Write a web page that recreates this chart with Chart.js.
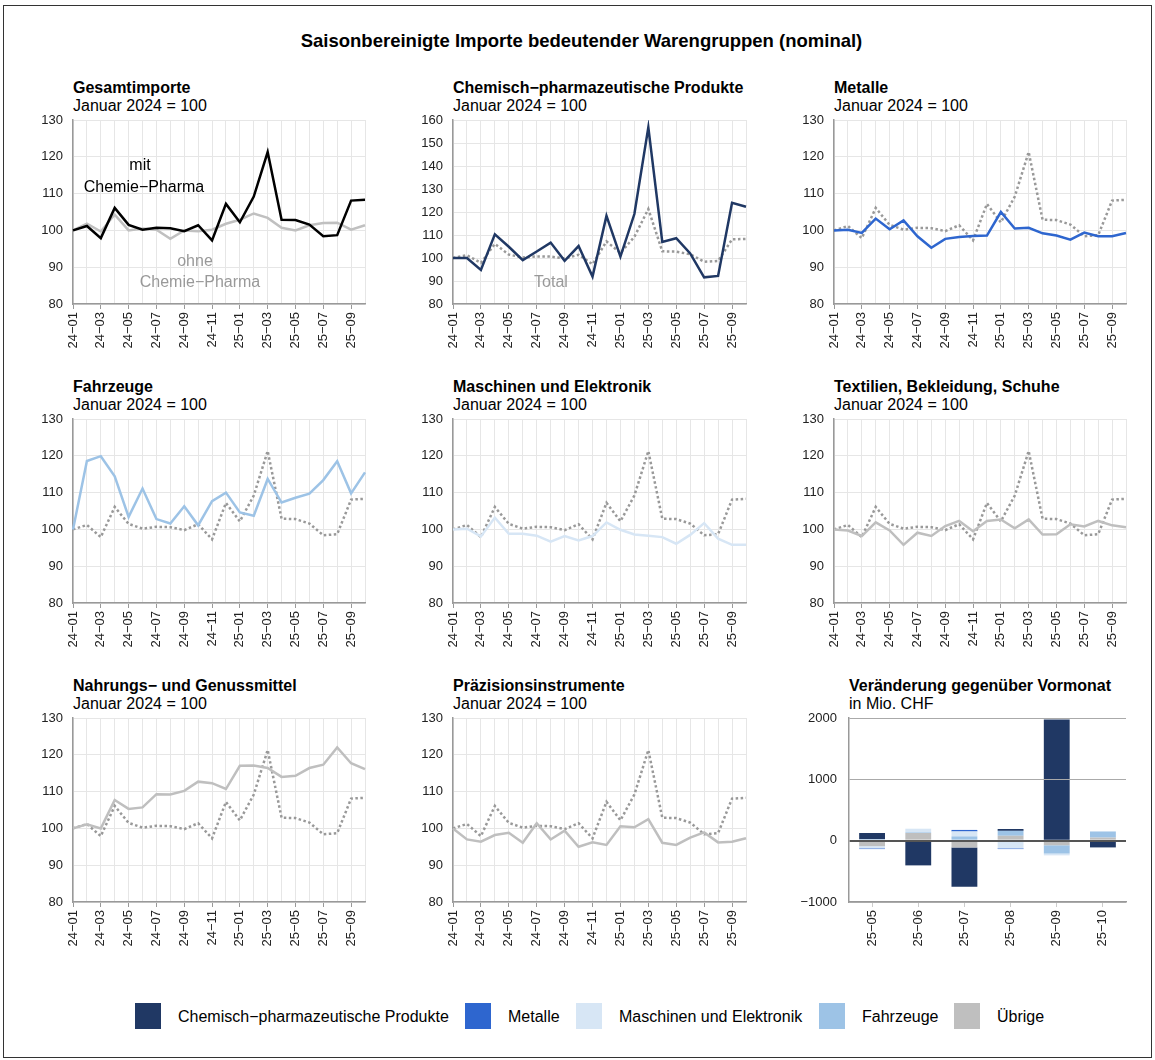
<!DOCTYPE html>
<html>
<head>
<meta charset="utf-8">
<script src="https://cdn.jsdelivr.net/npm/chart.js"></script>
<style>
  body { margin: 0; background: #fff; font-family: "Liberation Sans", Arial, sans-serif; color: #000; }
  #page { position: relative; width: 1155px; height: 1060px; overflow: hidden; }
  .frame { position: absolute; left: 3px; top: 5px; width: 1149px; height: 1053px; border: 1px solid #333; box-sizing: border-box; }
  .t { position: absolute; white-space: nowrap; line-height: 18px; }
  .h { font-weight: bold; font-size: 16px; }
  .s { font-size: 16px; }
  .main { font-weight: bold; font-size: 18.5px; left: 0; width: 1163px; text-align: center; top: 31px; line-height: 20px; }
  .note { font-size: 16px; text-align: center; transform: translateX(-50%); }
  canvas { position: absolute; }
  .sw { position: absolute; width: 26px; height: 26px; top: 1003px; }
  .lt { position: absolute; top: 1008px; font-size: 16px; line-height: 18px; white-space: nowrap; }
</style>
</head>
<body>
<div id="page">
  <div class="frame"></div>
  <div class="t main">Saisonbereinigte Importe bedeutender Warengruppen (nominal)</div>
</div>
<script>
// months shown on the line panels
const months = ["24−01", "24−02", "24−03", "24−04", "24−05", "24−06", "24−07", "24−08", "24−09", "24−10", "24−11", "24−12",
  "25−01", "25−02", "25−03", "25−04", "25−05", "25−06", "25−07", "25−08", "25−09", "25−10"];

// index values, Januar 2024 = 100
const total = [100, 101.2, 97.9, 106.1, 101.5, 100.2, 100.7, 100.6, 99.8, 101.4, 97.3, 107.2, 102.2, 109.2, 121.3, 102.9, 102.8, 101.6, 98.4, 98.7, 108.1, 108.3];
const ohneChemie = [100, 101.8, 99.7, 104.3, 100, 100.5, 100.2, 97.7, 100, 99.8, 100.2, 101.8, 102.9, 104.6, 103.4, 100.7, 100, 101.4, 102, 102.1, 100.2, 101.4];
const chemie = [100, 100, 94.8, 110.3, 104.9, 99.1, 102.8, 106.7, 98.8, 105.2, 91.9, 118.3, 100.6, 119.1, 156.8, 107, 108.6, 102, 91.6, 92.2, 124, 122.3];
const metalle = [100, 100.2, 99.3, 103.2, 100.3, 102.7, 98.4, 95.3, 97.7, 98.2, 98.5, 98.6, 105, 100.5, 100.7, 99.2, 98.6, 97.5, 99.4, 98.4, 98.4, 99.3];
const fahrzeuge = [100, 118.6, 119.9, 114.4, 103.4, 111.1, 102.8, 101.6, 106.3, 101.1, 107.7, 110, 104.6, 103.7, 113.7, 107.3, 108.6, 109.7, 113.4, 118.5, 109.8, 115.5];
const maschinen = [100, 100.2, 98.1, 103.2, 98.8, 98.8, 98.3, 96.7, 98.2, 97, 98.2, 101.9, 99.9, 98.6, 98.3, 97.9, 96.1, 98.5, 101.7, 97.5, 95.8, 95.8];
const textilien = [100, 99.7, 98.2, 101.9, 99.7, 95.8, 99.1, 98.2, 100.9, 102.3, 99.5, 102.3, 102.7, 100.3, 102.7, 98.6, 98.7, 101.4, 100.8, 102.3, 101.1, 100.6];
const nahrung = [100, 101.1, 100, 107.7, 105.3, 105.7, 109.3, 109.2, 110.2, 112.7, 112.3, 110.7, 117, 117.1, 116.4, 114, 114.3, 116.4, 117.3, 122, 117.7, 116.1];
const praezision = [100, 97, 96.4, 98.2, 98.8, 96.1, 101.4, 97, 99.4, 95, 96.2, 95.5, 100.6, 100.3, 102.5, 96.1, 95.5, 97.5, 98.9, 96.2, 96.4, 97.3];

// change vs previous month, Mio. CHF
const barMonths = ["25−05", "25−06", "25−07", "25−08", "25−09", "25−10"];
const dChemie = [100, -385, -640, 30, 1975, -110];
const dMetalle = [-12, -18, 25, -12, 0, 0];
const dMaschinen = [-35, 60, 80, -125, -30, 0];
const dFahrzeuge = [25, 10, 70, 80, -135, 100];
const dUebrige = [-90, 125, -110, 80, -75, 50];

const C_CHEM = "#203864", C_MET = "#2e66cf", C_MASCH = "#d7e6f5", C_FAHR = "#9dc3e6", C_UEB = "#bfbfbf";

Chart.defaults.font.family = "'Liberation Sans', Arial, sans-serif";
Chart.defaults.font.size = 13;
Chart.defaults.color = "#222";
Chart.defaults.animation = false;

const page = document.getElementById("page");

function addText(cls, text, x, y, color) {
  const d = document.createElement("div");
  d.className = "t " + cls;
  d.textContent = text;
  d.style.left = x + "px";
  d.style.top = y + "px";
  if (color) d.style.color = color;
  page.appendChild(d);
}

function addCanvas(pl, pt, pr, pb, yw, xh) {
  const c = document.createElement("canvas");
  const w = pr - pl + yw + 10, h = pb - pt + 10 + xh;
  c.width = w; c.height = h;
  c.style.left = (pl - yw) + "px";
  c.style.top = (pt - 10) + "px";
  c.style.width = w + "px";
  c.style.height = h + "px";
  page.appendChild(c);
  return c.getContext("2d");
}

// fixed axis sizes, no extra label padding, so the plot lands where we want it
function fixY(w) {
  return (s) => { s.width = w; s.paddingTop = 0; s.paddingBottom = 0; };
}
function fixX(h) {
  return (s) => { s.height = h; s.paddingLeft = 0; s.paddingRight = 0; };
}

function lineOptions(min, max) {
  return {
    responsive: false,
    devicePixelRatio: 1,
    layout: { padding: { top: 10, right: 10, left: 0, bottom: 0 } },
    plugins: { legend: { display: false }, tooltip: { enabled: false } },
    scales: {
      x: {
        offset: false,
        ticks: {
          autoSkip: false, minRotation: 90, maxRotation: 90, padding: 3,
          callback: function (v, i) { return i % 2 === 0 ? this.getLabelForValue(v) : ""; }
        },
        grid: {
          color: "#e6e6e6", tickLength: 5,
          tickColor: (c) => (c.index % 2 === 0 ? "#999" : "rgba(0,0,0,0)")
        },
        border: { color: "#999", width: 1.5 },
        afterFit: fixX(55)
      },
      y: {
        min: min, max: max,
        ticks: { stepSize: 10, padding: 10 },
        grid: { color: "#e6e6e6", drawTicks: false },
        border: { color: "#999", width: 1.5 },
        afterFit: fixY(45)
      }
    }
  };
}

function lineChart(box, title, series, color, min, max) {
  addText("h", title, box[0], box[1] - 41);
  addText("s", "Januar 2024 = 100", box[0], box[1] - 23);
  const ctx = addCanvas(box[0], box[1], box[2], box[3], 45, 55);
  return new Chart(ctx, {
    type: "line",
    data: {
      labels: months,
      datasets: [
        { data: series, borderColor: color, borderWidth: 2.5, pointRadius: 0, tension: 0 },
        { data: total, borderColor: "#999", borderWidth: 2.5, borderDash: [2.5, 2.5], pointRadius: 0, tension: 0 }
      ]
    },
    options: lineOptions(min, max)
  });
}

const col = [[73, 365], [453, 746], [834, 1126]];
const row = [[120, 304], [419, 603], [718, 902]];
const B = (c, r) => [col[c][0], row[r][0], col[c][1], row[r][1]];

// panel 1: Gesamtimporte with and without chem-pharma
(function () {
  const box = B(0, 0);
  addText("h", "Gesamtimporte", box[0], box[1] - 41);
  addText("s", "Januar 2024 = 100", box[0], box[1] - 23);
  const ctx = addCanvas(box[0], box[1], box[2], box[3], 45, 55);
  new Chart(ctx, {
    type: "line",
    data: {
      labels: months,
      datasets: [
        { data: total, borderColor: "#000", borderWidth: 2.5, pointRadius: 0, tension: 0 },
        { data: ohneChemie, borderColor: "#c0c0c0", borderWidth: 2.5, pointRadius: 0, tension: 0 }
      ]
    },
    options: lineOptions(80, 130)
  });
  addText("note", "mit", 140, 156);
  addText("note", "Chemie−Pharma", 144, 178);
  addText("note", "ohne", 195, 252, "#999");
  addText("note", "Chemie−Pharma", 200, 273, "#999");
})();

lineChart(B(1, 0), "Chemisch−pharmazeutische Produkte", chemie, C_CHEM, 80, 160);
addText("note", "Total", 551, 273, "#999");
lineChart(B(2, 0), "Metalle", metalle, C_MET, 80, 130);
lineChart(B(0, 1), "Fahrzeuge", fahrzeuge, C_FAHR, 80, 130);
lineChart(B(1, 1), "Maschinen und Elektronik", maschinen, C_MASCH, 80, 130);
lineChart(B(2, 1), "Textilien, Bekleidung, Schuhe", textilien, C_UEB, 80, 130);
lineChart(B(0, 2), "Nahrungs− und Genussmittel", nahrung, C_UEB, 80, 130);
lineChart(B(1, 2), "Präzisionsinstrumente", praezision, C_UEB, 80, 130);

// panel 9: stacked bars of monthly change
(function () {
  const pl = 849, pt = 718, pr = 1126, pb = 902;
  addText("h", "Veränderung gegenüber Vormonat", pl, pt - 41);
  addText("s", "in Mio. CHF", pl, pt - 23);
  const ctx = addCanvas(pl, pt, pr, pb, 60, 55);
  const ds = (label, data, color) => ({
    label: label, data: data, backgroundColor: color, borderWidth: 0,
    barPercentage: 0.56, categoryPercentage: 1
  });
  new Chart(ctx, {
    type: "bar",
    data: {
      labels: barMonths,
      datasets: [
        ds("Übrige", dUebrige, C_UEB),
        ds("Fahrzeuge", dFahrzeuge, C_FAHR),
        ds("Maschinen und Elektronik", dMaschinen, C_MASCH),
        ds("Metalle", dMetalle, C_MET),
        ds("Chemisch−pharmazeutische Produkte", dChemie, C_CHEM)
      ]
    },
    options: {
      responsive: false,
      devicePixelRatio: 1,
      layout: { padding: { top: 10, right: 10, left: 0, bottom: 0 } },
      plugins: { legend: { display: false }, tooltip: { enabled: false } },
      scales: {
        x: {
          stacked: true,
          ticks: { minRotation: 90, maxRotation: 90, padding: 3 },
          grid: { offset: false, drawOnChartArea: false, tickLength: 5, tickColor: "#ccc" },
          border: { color: "#999", width: 1.5 },
          afterFit: fixX(55)
        },
        y: {
          stacked: true,
          min: -1000, max: 2000,
          ticks: {
            stepSize: 1000, padding: 12,
            callback: (v) => String(v).replace("-", "−")
          },
          grid: {
            drawTicks: false,
            color: (c) => (c.tick && c.tick.value === 0 ? "#555" : "#aaa"),
            lineWidth: (c) => (c.tick && c.tick.value === 0 ? 2 : 1),
            z: 1
          },
          border: { color: "#999", width: 1.5, z: 2 },
          afterFit: fixY(60)
        }
      }
    }
  });
})();

// legend
const legendItems = [
  ["Chemisch−pharmazeutische Produkte", C_CHEM, 135, 178],
  ["Metalle", C_MET, 465, 508],
  ["Maschinen und Elektronik", C_MASCH, 576, 619],
  ["Fahrzeuge", C_FAHR, 819, 862],
  ["Übrige", C_UEB, 954, 997]
];
legendItems.forEach(function (it) {
  const sw = document.createElement("div");
  sw.className = "sw";
  sw.style.left = it[2] + "px";
  sw.style.background = it[1];
  page.appendChild(sw);
  const lt = document.createElement("div");
  lt.className = "lt";
  lt.style.left = it[3] + "px";
  lt.textContent = it[0];
  page.appendChild(lt);
});
</script>
</body>
</html>
